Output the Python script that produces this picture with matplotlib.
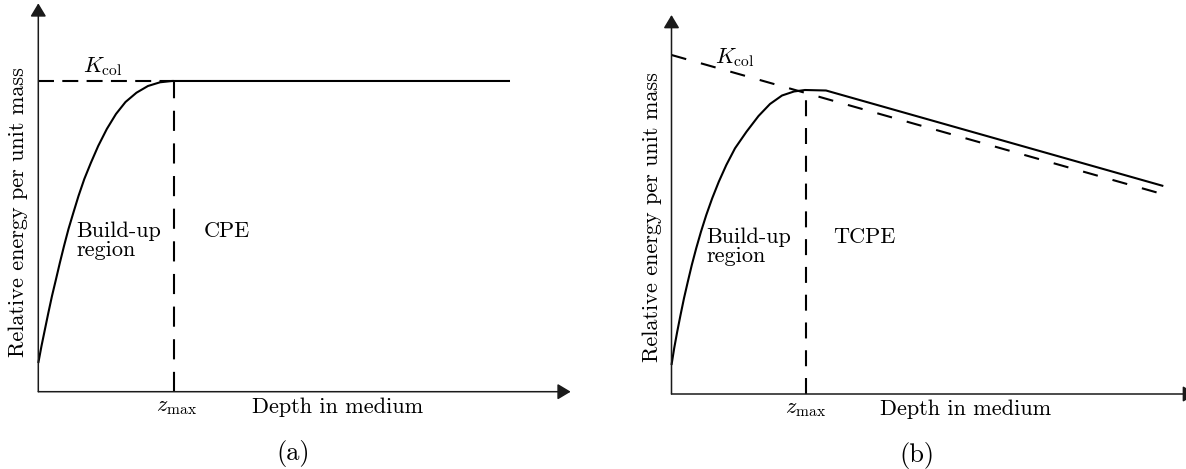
import matplotlib
matplotlib.use("Agg")
import matplotlib.pyplot as plt

plt.rcParams["font.family"] = ["cmr10", "DejaVu Serif"]
plt.rcParams["mathtext.fontset"] = "cm"
plt.rcParams["axes.formatter.use_mathtext"] = True
plt.rcParams["lines.scale_dashes"] = False

# ---- (a) charged particle equilibrium ----
a_depth = [0.000, 0.060, 0.122, 0.188, 0.257, 0.329, 0.404, 0.483, 0.567,
           0.657, 0.755, 0.864, 0.986, 1.125, 1.287, 1.459, 1.638, 1.844,
           2.060, 2.286, 2.511, 8.860]
a_energy = [0.739, 1.177, 1.589, 2.026, 2.464, 2.876, 3.314, 3.751, 4.189,
            4.601, 5.039, 5.476, 5.888, 6.326, 6.764, 7.150, 7.459, 7.698,
            7.871, 7.966, 8.000, 8.000]
a_kcol = 8.0
a_zmax = 2.55

# ---- (b) transient charged particle equilibrium ----
b_depth = [0.000, 0.051, 0.109, 0.172, 0.238, 0.311, 0.387, 0.471, 0.562,
           0.663, 0.776, 0.902, 1.045, 1.211, 1.430, 1.659, 1.878, 2.107,
           2.336, 2.545, 2.946, 9.377]
b_energy = [0.765, 1.206, 1.644, 2.084, 2.525, 2.963, 3.404, 3.844, 4.282,
            4.723, 5.164, 5.602, 6.042, 6.483, 6.921, 7.335, 7.652, 7.876,
            7.982, 8.021, 8.008, 5.488]
b_kcol_depth = [0.0, 9.377]
b_kcol_energy = [8.945, 5.269]
b_zmax = 2.559
b_peak = 8.021

W, H = 1186, 469
FS = 16
fig = plt.figure(figsize=(W / 100, H / 100), dpi=100)


def panel(left, top, right, bottom):
    ax = fig.add_axes([left / W, (H - bottom) / H, (right - left) / W,
                       (bottom - top) / H])
    ax.set_xlim(0, 10)
    ax.set_ylim(0, 10)
    ax.axis("off")
    arrow = dict(arrowstyle="-|>,head_length=0.4,head_width=0.24",
                 mutation_scale=20, lw=1.1, color="#1a1a1a",
                 shrinkA=0, shrinkB=0)
    ax.annotate("", xy=(10, 0), xytext=(0, 0), arrowprops=arrow,
                annotation_clip=False)
    ax.annotate("", xy=(0, 10), xytext=(0, 0), arrowprops=arrow,
                annotation_clip=False)
    return ax


solid = dict(color="black", lw=1.5, solid_capstyle="butt",
             solid_joinstyle="round", clip_on=False)

# panel (a)
ax1 = panel(38.3, 3.3, 570.7, 391.7)
ax1.plot([0, a_zmax], [a_kcol, a_kcol], ls=(0, (11.5, 6.0)), color="black",
         lw=1.5, clip_on=False)
ax1.plot([a_zmax, a_zmax], [0, a_kcol], ls=(0, (14.5, 9.0)), color="black",
         lw=1.5, clip_on=False)
ax1.plot(a_depth, a_energy, **solid)
ax1.text(0.84, 8.23, r"$K_{\mathrm{col}}$", fontsize=FS, va="baseline")
ax1.text(0.72, 3.98, "Build-up", fontsize=FS, va="baseline")
ax1.text(0.72, 3.49, "region", fontsize=FS, va="baseline")
ax1.text(3.11, 3.98, "CPE", fontsize=FS, va="baseline")
ax1.text(2.6, -0.50, r"$z_{\mathrm{max}}$", fontsize=FS, ha="center",
         va="baseline")
ax1.text(4.01, -0.55, "Depth in medium", fontsize=FS, va="baseline")
ax1.text(4.78, -1.58, "(a)", fontsize=19, ha="center", va="center")
ax1.text(-0.38, 4.63, "Relative energy per unit mass", fontsize=FS,
         rotation=90, ha="center", va="center")

# panel (b)
ax2 = panel(671.5, 15.0, 1196.0, 394.0)
ax2.plot(b_kcol_depth, b_kcol_energy, ls=(0, (11.0, 11.0)), color="black",
         lw=1.5, clip_on=False)
ax2.plot([b_zmax, b_zmax], [0, b_peak], ls=(0, (11.5, 8.5)),
         color="black", lw=1.5, clip_on=False)
ax2.plot(b_depth, b_energy, **solid)
ax2.text(0.83, 8.725, r"$K_{\mathrm{col}}$", fontsize=FS, va="baseline")
ax2.text(0.67, 3.976, "Build-up", fontsize=FS, va="baseline")
ax2.text(0.67, 3.49, "region", fontsize=FS, va="baseline")
ax2.text(3.09, 3.976, "TCPE", fontsize=FS, va="baseline")
ax2.text(2.56, -0.50, r"$z_{\mathrm{max}}$", fontsize=FS, ha="center",
         va="baseline")
ax2.text(3.975, -0.554, "Depth in medium", fontsize=FS, va="baseline")
ax2.text(4.68, -1.61, "(b)", fontsize=19, ha="center", va="center")
ax2.text(-0.37, 4.67, "Relative energy per unit mass", fontsize=FS,
         rotation=90, ha="center", va="center")

fig.savefig("out.png", dpi=100)
